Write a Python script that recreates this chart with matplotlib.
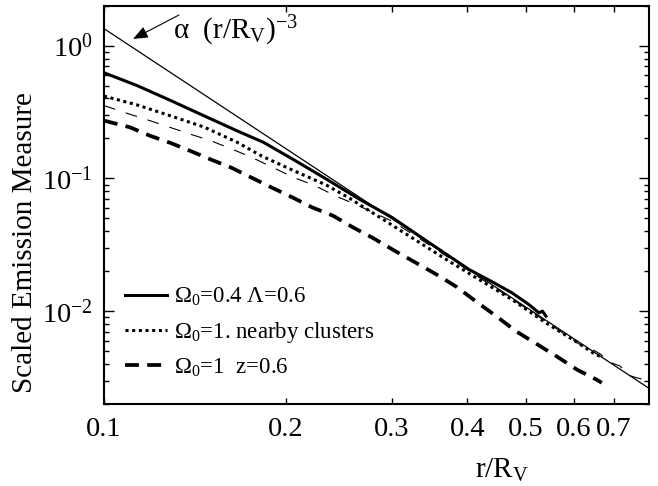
import matplotlib
matplotlib.use('Agg')
import matplotlib.pyplot as plt
from matplotlib.ticker import FixedLocator, FixedFormatter, NullLocator, NullFormatter, LogLocator

plt.rcParams['font.family'] = ['Liberation Serif', 'DejaVu Serif']
plt.rcParams['mathtext.fontset'] = 'custom'
plt.rcParams['mathtext.rm'] = 'Liberation Serif'
plt.rcParams['mathtext.it'] = 'Liberation Serif:italic'
plt.rcParams['mathtext.bf'] = 'Liberation Serif:bold'
plt.rcParams['mathtext.default'] = 'regular'
plt.rcParams['axes.unicode_minus'] = False
plt.rcParams['lines.scale_dashes'] = False

# ---------------- data ----------------
ref_x = [0.1, 0.8]
ref_y = [1.344, 0.002625]

lcdm_x = [0.100, 0.1134, 0.1290, 0.1463, 0.1659, 0.1838, 0.2053, 0.2337, 0.2649, 0.3004,
          0.3458, 0.4027, 0.4429, 0.4743, 0.5060, 0.5257, 0.5327, 0.5399]
lcdm_y = [0.625, 0.501, 0.386, 0.297, 0.229, 0.187, 0.140, 0.0988, 0.0698, 0.0507,
          0.0328, 0.0206, 0.01636, 0.01375, 0.01122, 0.00971, 0.01002, 0.00918]

near_x = [0.100, 0.1134, 0.1290, 0.1463, 0.1659, 0.1825, 0.2053, 0.2337, 0.2551, 0.3004,
          0.3689, 0.4183, 0.4743, 0.5399, 0.6050, 0.6530, 0.6681]
near_y = [0.417, 0.358, 0.2958, 0.2443, 0.1880, 0.1475, 0.1155, 0.0890, 0.0710, 0.0444,
          0.02455, 0.01733, 0.01224, 0.00816, 0.00592, 0.00470, 0.00454]

thin_x = [0.100, 0.1100, 0.1191, 0.1285, 0.1387, 0.1503, 0.1628, 0.1757, 0.1903, 0.2061,
          0.2240, 0.2418, 0.2609, 0.3004, 0.3458, 0.4027, 0.4690, 0.5357, 0.6120, 0.6310,
          0.6454, 0.6655, 0.6783, 0.6992, 0.7153, 0.7319, 0.7458, 0.7630, 0.7777, 0.7866, 0.7957]
thin_y = [0.354, 0.306, 0.2725, 0.2429, 0.2162, 0.1924, 0.1665, 0.1441, 0.1211, 0.1018,
          0.0879, 0.0739, 0.0639, 0.04756, 0.0316, 0.0201, 0.01278, 0.00856, 0.00569, 0.00526,
          0.00513, 0.00474, 0.00431, 0.00402, 0.00388, 0.00352, 0.00326, 0.00315, 0.00309, 0.00289, 0.00265]

z06_x = [0.100, 0.1104, 0.1191, 0.1290, 0.1398, 0.1508, 0.1622, 0.1895, 0.2053, 0.2215,
         0.2400, 0.2590, 0.2784, 0.3038, 0.3287, 0.3556, 0.3837, 0.4131, 0.4484, 0.482,
         0.5236, 0.5649, 0.6084, 0.6559, 0.6681]
z06_y = [0.2725, 0.2429, 0.2099, 0.1848, 0.1594, 0.1380, 0.1211, 0.0855, 0.0719, 0.0604,
         0.0522, 0.0426, 0.0358, 0.02836, 0.02317, 0.01891, 0.01527, 0.01188, 0.00905, 0.00705,
         0.00559, 0.00451, 0.00362, 0.00304, 0.00289]

x_ticks = [0.1, 0.2, 0.3, 0.4, 0.5, 0.6, 0.7]
x_ticklabels = ['0.1', '0.2', '0.3', '0.4', '0.5', '0.6', '0.7']

labels = ['Ω$_0$=0.4 Λ=0.6', 'Ω$_0$=1. nearby clusters', 'Ω$_0$=1  z=0.6']

# ---------------- figure ----------------
W, H = 658, 486
fig = plt.figure(figsize=(W / 100, H / 100), dpi=100)
ax = fig.add_axes([104 / W, 1 - 404 / H, 545 / W, 398.3 / H])
ax.set_xscale('log')
ax.set_yscale('log')

ax.plot(ref_x, ref_y, color='k', lw=0.9, solid_capstyle='butt')
ax.plot(thin_x, thin_y, color='k', lw=0.8, linestyle=(0, (8.5, 8)))
ax.plot(lcdm_x, lcdm_y, color='k', lw=2.2, label=labels[0])
ax.plot(near_x, near_y, color='k', lw=2.2, linestyle=(0, (2.2, 2.6)), label=labels[1])
ax.plot(z06_x, z06_y, color='k', lw=2.7, linestyle=(0, (10, 6)), label=labels[2])

ax.set_xlim(0.1, 0.8)
ax.set_ylim(0.002, 2.0)

ax.xaxis.set_major_locator(FixedLocator(x_ticks))
ax.xaxis.set_major_formatter(FixedFormatter(x_ticklabels))
ax.xaxis.set_minor_locator(NullLocator())
ax.yaxis.set_major_locator(LogLocator(base=10))
ax.yaxis.set_minor_locator(LogLocator(base=10, subs=range(2, 10)))
ax.yaxis.set_minor_formatter(NullFormatter())

ax.tick_params(axis='x', which='major', direction='in', length=4, width=1,
               top=True, bottom=True, labelsize=20.5, pad=9)
ax.tick_params(axis='y', which='major', direction='in', length=7, width=1,
               left=True, right=True, labelsize=20.5, pad=8)
ax.tick_params(axis='y', which='minor', direction='in', length=3.5, width=1,
               left=True, right=True)
for s in ax.spines.values():
    s.set_linewidth(1.5)

fig.text(25 / W, 1 - 243 / H, 'Scaled Emission Measure', rotation=90,
         ha='center', va='center', fontsize=21)
fig.text(502 / W, 1 - 478 / H, 'r/R$_\\mathrm{V}$', ha='center', va='baseline', fontsize=21)

ax.text(0.1266, 0.916, 'α  (r/R$_\\mathrm{V}$)$^{-3}$', transform=ax.transAxes,
        fontsize=21, va='baseline', ha='left')
ax.annotate('', xy=(0.0532, 0.9164), xytext=(0.1376, 0.9767), xycoords='axes fraction',
            textcoords='axes fraction',
            arrowprops=dict(arrowstyle='-|>,head_length=0.75,head_width=0.3', lw=0.8,
                            color='k', shrinkA=0, shrinkB=0, mutation_scale=12))

ax.legend(loc='upper left', bbox_to_anchor=(0.0385, 0.296), frameon=False, fontsize=16.5,
          handlelength=1.85, handletextpad=0.3, labelspacing=0.5, borderpad=0,
          borderaxespad=0)

fig.savefig('out.png', dpi=100)
